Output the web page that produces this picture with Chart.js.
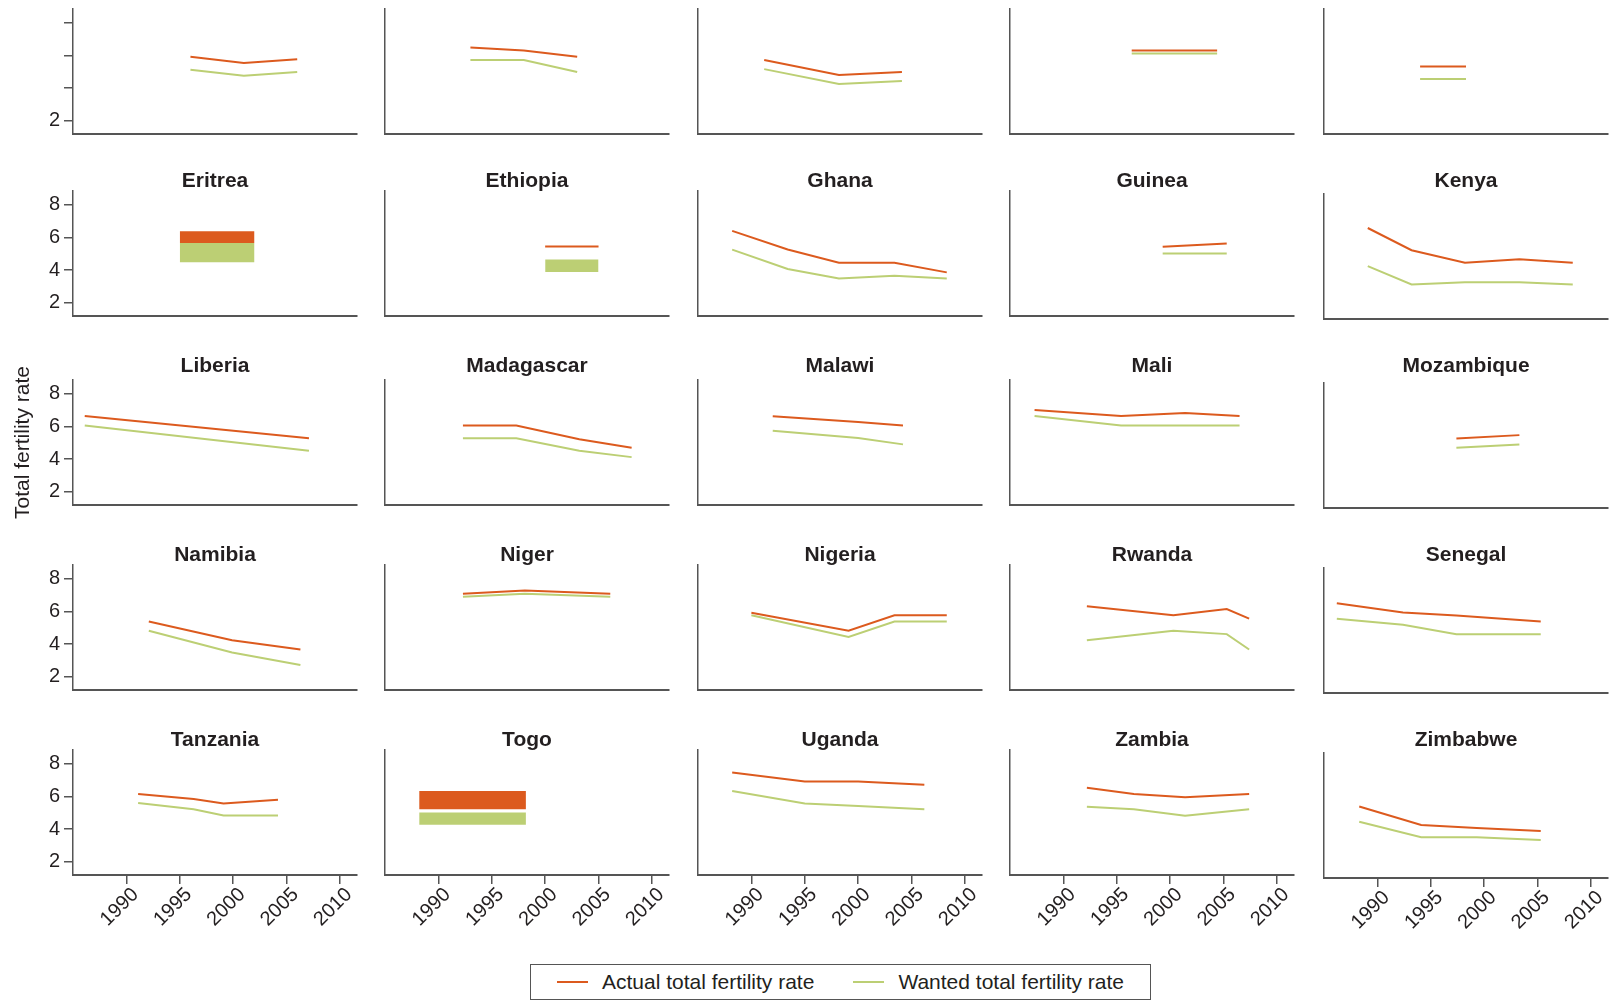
<!DOCTYPE html>
<html>
<head>
<meta charset="utf-8">
<script src="https://cdn.jsdelivr.net/npm/chart.js@4.4.1/dist/chart.umd.min.js"></script>
<style>
html, body { margin: 0; padding: 0; background: #fff; }
body { position: relative; width: 1611px; height: 1002px; overflow: hidden; }
canvas { position: absolute; }
#legendBox { position: absolute; left: 530px; top: 964px; width: 621px; height: 36px;
  box-sizing: border-box; border: 1.5px solid #555; display: flex; align-items: center;
  justify-content: center; font: 21px 'Liberation Sans', Arial, Helvetica, sans-serif; color: #231f20; }
#legendBox .item { display: flex; align-items: center; white-space: nowrap; }
#legendBox .item + .item { margin-left: 39px; }
#legendBox .swatch { width: 31px; height: 2px; margin-right: 14px; }
</style>
</head>
<body>
<div id="legendBox"></div>
<script>
// panel titles (top row titles are cut off in the source figure)
const titles = [
  '', '', '', '', '',
  'Eritrea', 'Ethiopia', 'Ghana', 'Guinea', 'Kenya',
  'Liberia', 'Madagascar', 'Malawi', 'Mali', 'Mozambique',
  'Namibia', 'Niger', 'Nigeria', 'Rwanda', 'Senegal',
  'Tanzania', 'Togo', 'Uganda', 'Zambia', 'Zimbabwe'
];

// survey years per panel
const surveyYears = [
  [1996, 2001, 2006], [1993, 1998, 2003], [1991.2, 1998.2, 2004.1], [1996.4, 2004.4], [1994, 1998.3],
  [1995, 2002], [2000, 2005], [1988.2, 1993.4, 1998.2, 2003.4, 2008.3], [1999.3, 2005.3], [1989.1, 1993.2, 1998.2, 2003.3, 2008.3],
  [1986.1, 2007.1], [1992.3, 1997.3, 2003.2, 2008.1], [1992, 2000, 2004.2], [1987.3, 1995.4, 2001.4, 2006.5], [1997.4, 2003.3],
  [1992.1, 1999.9, 2006.3], [1992.3, 1998.1, 2006.1], [1990, 1999.1, 2003.4, 2008.3], [1992.2, 2000.3, 2005.3, 2007.4], [1986.2, 1992.4, 1997.4, 2005.3],
  [1991.1, 1996.3, 1999.1, 2004.2], [1988.2, 1998.2], [1988.2, 1995, 2000, 2006.2], [1992.2, 1996.6, 2001.4, 2007.4], [1988.3, 1994.1, 1999.3, 2005.3]
];

// actual total fertility rate ([lo, hi] = shaded band)
const actualTfr = [
  [5.93, 5.55, 5.77], [6.49, 6.31, 5.93], [5.73, 4.81, 4.99], [6.31, 6.31], [5.33, 5.33],
  [[5.66, 6.38], [5.66, 6.38]], [5.45, 5.45], [6.41, 5.27, 4.46, 4.46, 3.87], [5.44, 5.63], [6.77, 5.41, 4.65, 4.86, 4.65],
  [6.65, 5.29], [6.06, 6.06, 5.23, 4.70], [6.63, 6.28, 6.06], [7.02, 6.65, 6.83, 6.65], [5.46, 5.66],
  [5.39, 4.24, 3.68], [7.09, 7.29, 7.09], [5.93, 4.83, 5.77, 5.77], [6.33, 5.77, 6.15, 5.57], [6.69, 6.13, 5.95, 5.57],
  [6.16, 5.85, 5.58, 5.80], [[5.22, 6.34], [5.22, 6.34]], [7.48, 6.92, 6.92, 6.72], [6.54, 6.16, 5.96, 6.16], [5.58, 4.44, 4.26, 4.08]
];

// wanted total fertility rate ([lo, hi] = shaded band)
const wantedTfr = [
  [5.13, 4.77, 4.99], [5.73, 5.73, 4.99], [5.17, 4.26, 4.44], [6.13, 6.13], [4.57, 4.57],
  [[4.49, 5.66], [4.49, 5.66]], [[3.90, 4.66], [3.90, 4.66]], [5.26, 4.08, 3.50, 3.67, 3.50], [5.03, 5.03], [4.44, 3.31, 3.45, 3.45, 3.31],
  [6.06, 4.52], [5.28, 5.28, 4.52, 4.13], [5.74, 5.30, 4.91], [6.65, 6.06, 6.06, 6.06], [4.89, 5.09],
  [4.83, 3.50, 2.73], [6.91, 7.09, 6.91], [5.77, 4.44, 5.39, 5.39], [4.24, 4.83, 4.62, 3.68], [5.75, 5.37, 4.80, 4.80],
  [5.60, 5.22, 4.84, 4.84], [[4.28, 5.02], [4.28, 5.02]], [6.34, 5.58, 5.42, 5.22], [5.38, 5.22, 4.82, 5.22], [4.64, 3.70, 3.70, 3.52]
];

const xTicks = [1990, 1995, 2000, 2005, 2010];
const yTicks = [2, 4, 6, 8];
const seriesLabels = ['Actual total fertility rate', 'Wanted total fertility rate'];

const ORANGE = '#dc5a1e';
const GREEN = '#bccf74';
const INK = '#231f20';
const AXIS = '#555';
const FONT = "'Liberation Sans', Arial, Helvetica, sans-serif";
const seriesColors = [ORANGE, GREEN];

// grid geometry
const colLeft = [73, 385, 698, 1010, 1324];
const rowBottom = [134, 316, 505, 690, 875];
const titleGap = [0, 9.6, 13.6, 9.6, 9.6];   // title centre above plot top, per row
const PLOT_W = 284, PLOT_H = 125;

function makeSeries(label, years, vals, color) {
  const band = Array.isArray(vals[0]);
  return {
    label: label,
    data: years.map((x, i) => ({x: x, y: band ? vals[i][1] : vals[i]})),
    borderColor: band ? 'rgba(0,0,0,0)' : color,
    backgroundColor: color,
    borderWidth: band ? 0 : 2,
    fill: band ? {value: vals[0][0]} : false,
    pointRadius: 0,
    tension: 0
  };
}

function drawPanel(i) {
  const r = Math.floor(i / 5), c = i % 5;
  const shift = (c === 4 && r > 0) ? 3 : 0;
  const plotBottom = rowBottom[r] + shift;
  const plotTop = plotBottom - PLOT_H;
  const leftW = c === 0 ? 73 : 10;
  const rightW = 12;
  const gap = titleGap[r];
  const titleH = r > 0 ? 2 * gap + shift : 0;
  const xH = r === 4 ? 80 : 20;

  const canvasTop = Math.floor(plotTop - titleH - 20);
  const padTop = plotTop - titleH - canvasTop;
  const canvasH = Math.ceil(padTop + titleH + PLOT_H + xH);
  const padBottom = canvasH - (padTop + titleH + PLOT_H + xH);

  const cv = document.createElement('canvas');
  cv.width = leftW + PLOT_W + rightW;
  cv.height = canvasH;
  cv.style.left = (colLeft[c] - leftW) + 'px';
  cv.style.top = canvasTop + 'px';
  cv.style.width = cv.width + 'px';
  cv.style.height = cv.height + 'px';
  document.body.appendChild(cv);

  new Chart(cv, {
    type: 'line',
    data: {
      datasets: [
        makeSeries(seriesLabels[0], surveyYears[i], actualTfr[i], ORANGE),
        makeSeries(seriesLabels[1], surveyYears[i], wantedTfr[i], GREEN)
      ]
    },
    options: {
      responsive: false,
      animation: false,
      devicePixelRatio: 1,
      layout: {padding: {top: padTop, bottom: padBottom, left: 0, right: rightW}},
      plugins: {
        legend: {display: false},
        tooltip: {enabled: false},
        title: {
          display: r > 0,
          text: titles[i],
          fullSize: false,
          color: INK,
          font: {family: FONT, size: 21, weight: 'bold', lineHeight: (2 * gap) / 21},
          padding: {top: 0, bottom: shift}
        }
      },
      scales: {
        x: {
          type: 'linear', min: 1985, max: 2011.6,
          afterBuildTicks: s => { s.ticks = xTicks.map(v => ({value: v})); },
          afterFit: s => { s.height = xH; },
          border: {display: true, color: AXIS, width: 2},
          grid: {display: r === 4, drawOnChartArea: false, drawTicks: true, tickLength: 9, color: AXIS, lineWidth: 1.5},
          ticks: {
            display: r === 4, minRotation: 45, maxRotation: 45, autoSkip: false,
            labelOffset: 9, padding: -1,
            color: INK, font: {family: FONT, size: 20},
            callback: v => String(v)
          }
        },
        y: {
          min: 1.2, max: 8.85,
          afterBuildTicks: s => { s.ticks = yTicks.map(v => ({value: v})); },
          afterFit: s => { s.width = leftW; },
          border: {display: true, color: AXIS, width: 1.5},
          grid: {display: c === 0, drawOnChartArea: false, drawTicks: true, tickLength: 9, color: AXIS, lineWidth: 1.5},
          ticks: {
            display: c === 0, color: INK, font: {family: FONT, size: 20}, padding: 4,
            callback: v => (r === 0 && v !== 2) ? '' : String(v)
          },
          title: {
            display: i === 10, text: 'Total fertility rate', color: INK,
            font: {family: FONT, size: 21}, padding: {top: 11, bottom: 0}
          }
        }
      }
    }
  });
}

for (let i = 0; i < titles.length; i++) drawPanel(i);

// shared legend under the grid
const legendBox = document.getElementById('legendBox');
seriesLabels.forEach((label, k) => {
  const item = document.createElement('div');
  item.className = 'item';
  const sw = document.createElement('span');
  sw.className = 'swatch';
  sw.style.background = seriesColors[k];
  const tx = document.createElement('span');
  tx.textContent = label;
  item.appendChild(sw);
  item.appendChild(tx);
  legendBox.appendChild(item);
});
</script>
</body>
</html>
